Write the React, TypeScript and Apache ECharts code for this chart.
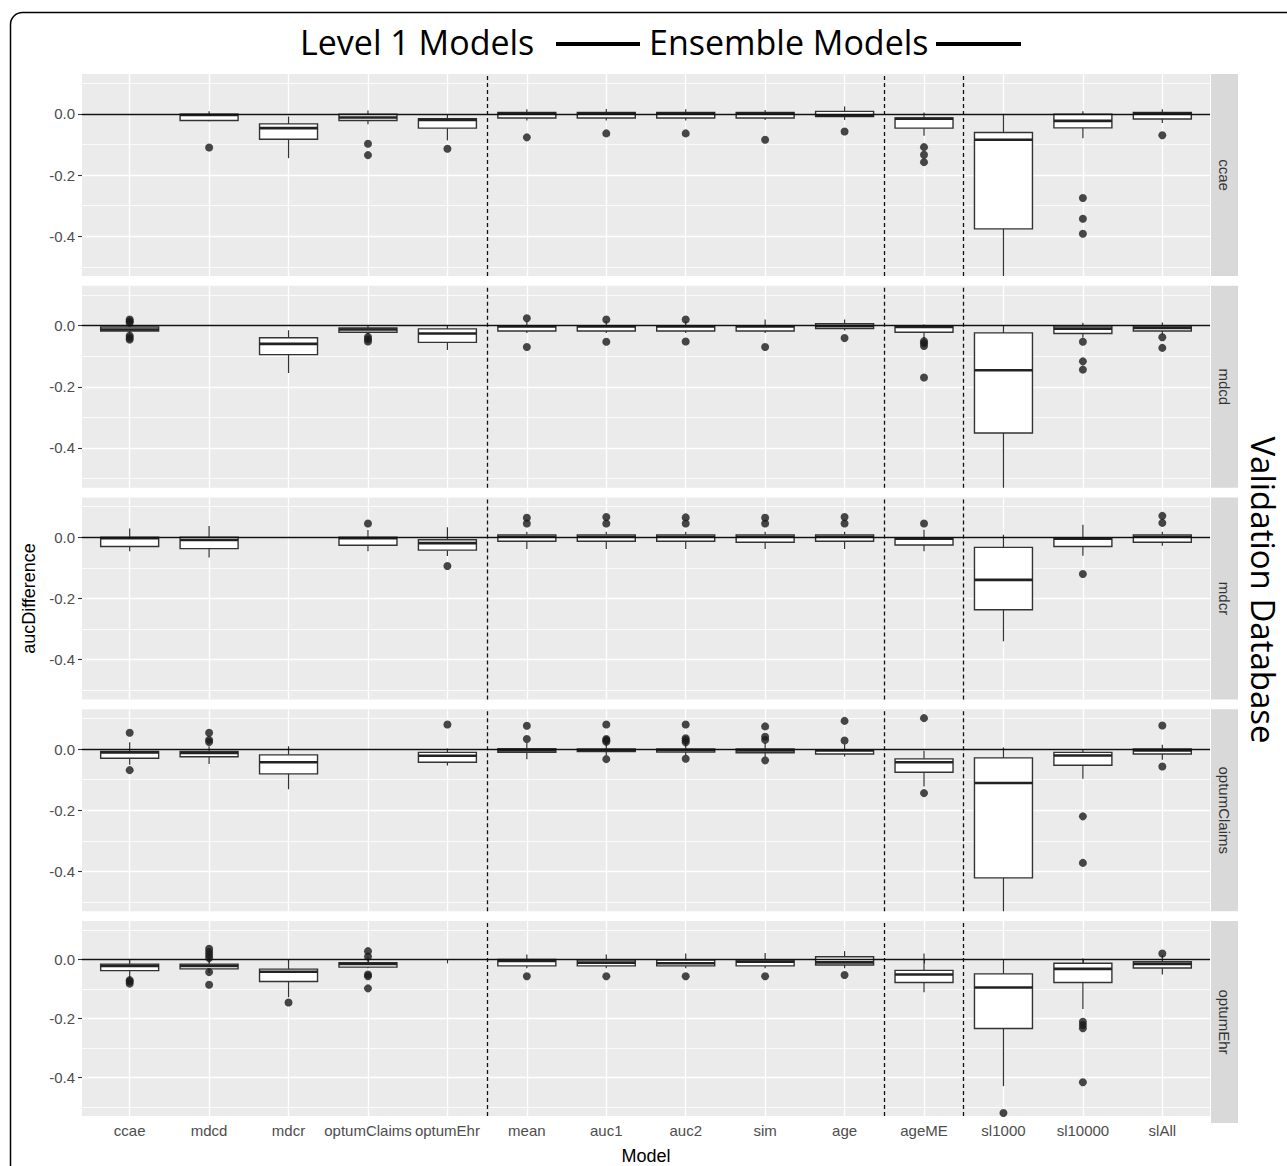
import React, { useEffect, useRef } from 'react';
import * as echarts from 'echarts';

// ---------- data ----------
const models = ['ccae', 'mdcd', 'mdcr', 'optumClaims', 'optumEhr', 'mean', 'auc1', 'auc2', 'sim', 'age', 'ageME', 'sl1000', 'sl10000', 'slAll'];
const databases = ['ccae', 'mdcd', 'mdcr', 'optumClaims', 'optumEhr'];
const yTickValues = [-0.4, -0.2, 0];
const yMinorValues = [-0.5, -0.3, -0.1, 0.1];
const groupDividers = [5.5, 10.5, 11.5];

// [lower whisker, Q1, median, Q3, upper whisker]; null = model trained on this database
type Stat = [number, number, number, number, number] | null;

const ccaeStats: Stat[] = [
  null,
  [-0.024, -0.022, -0.004, -0.001, 0.008],
  [-0.145, -0.083, -0.047, -0.033, -0.009],
  [-0.034, -0.022, -0.012, -0.001, 0.011],
  [-0.087, -0.047, -0.02, -0.016, -0.001],
  [-0.022, -0.014, 0.001, 0.004, 0.015],
  [-0.022, -0.014, 0.001, 0.004, 0.016],
  [-0.022, -0.014, 0.001, 0.004, 0.015],
  [-0.02, -0.014, 0.001, 0.004, 0.012],
  [-0.02, -0.009, -0.006, 0.008, 0.024],
  [-0.072, -0.047, -0.016, -0.014, 0.004],
  [-0.56, -0.376, -0.085, -0.061, 0.0],
  [-0.08, -0.046, -0.023, -0.001, 0.008],
  [-0.03, -0.017, 0.001, 0.004, 0.015],
];
const ccaeOutliers: [string, number][] = [
  ['mdcd', -0.11], ['optumClaims', -0.098], ['optumClaims', -0.135], ['optumEhr', -0.114],
  ['mean', -0.077], ['auc1', -0.064], ['auc2', -0.064], ['sim', -0.085], ['age', -0.058],
  ['ageME', -0.109], ['ageME', -0.134], ['ageME', -0.158],
  ['sl10000', -0.275], ['sl10000', -0.343], ['sl10000', -0.392], ['slAll', -0.07],
];

const mdcdStats: Stat[] = [
  [-0.025, -0.018, -0.013, -0.005, -0.001],
  null,
  [-0.155, -0.095, -0.06, -0.04, -0.015],
  [-0.03, -0.022, -0.013, -0.008, 0.0],
  [-0.08, -0.055, -0.026, -0.011, 0.0],
  [-0.024, -0.018, -0.003, -0.002, 0.014],
  [-0.024, -0.018, -0.003, -0.002, 0.014],
  [-0.024, -0.018, -0.003, -0.002, 0.014],
  [-0.024, -0.018, -0.003, -0.002, 0.02],
  [-0.016, -0.01, -0.002, 0.006, 0.02],
  [-0.045, -0.022, -0.005, -0.002, 0.003],
  [-0.56, -0.351, -0.146, -0.024, 0.0],
  [-0.04, -0.026, -0.01, -0.002, 0.009],
  [-0.03, -0.018, -0.008, -0.002, 0.01],
];
const mdcdOutliers: [string, number][] = [
  ['ccae', 0.02], ['ccae', 0.014], ['ccae', 0.009], ['ccae', -0.033], ['ccae', -0.04], ['ccae', -0.046],
  ['optumClaims', -0.037], ['optumClaims', -0.045], ['optumClaims', -0.052],
  ['mean', 0.024], ['mean', -0.07], ['auc1', 0.02], ['auc1', -0.053], ['auc2', 0.02], ['auc2', -0.052],
  ['sim', -0.07], ['age', -0.041],
  ['ageME', -0.051], ['ageME', -0.058], ['ageME', -0.067], ['ageME', -0.17],
  ['sl10000', -0.053], ['sl10000', -0.117], ['sl10000', -0.144], ['slAll', -0.038], ['slAll', -0.073],
];

const mdcrStats: Stat[] = [
  [-0.046, -0.03, -0.003, 0.0, 0.029],
  [-0.066, -0.037, -0.009, 0.0, 0.037],
  null,
  [-0.046, -0.026, -0.003, 0.0, 0.024],
  [-0.061, -0.042, -0.019, -0.008, 0.033],
  [-0.038, -0.013, 0.002, 0.008, 0.018],
  [-0.038, -0.013, 0.002, 0.008, 0.018],
  [-0.038, -0.013, 0.002, 0.008, 0.018],
  [-0.038, -0.016, 0.002, 0.008, 0.018],
  [-0.038, -0.013, 0.002, 0.008, 0.018],
  [-0.046, -0.025, -0.005, -0.002, 0.025],
  [-0.34, -0.237, -0.139, -0.033, 0.008],
  [-0.06, -0.03, -0.005, -0.002, 0.041],
  [-0.028, -0.016, 0.002, 0.008, 0.018],
];
const mdcrOutliers: [string, number][] = [
  ['optumClaims', 0.045], ['optumEhr', -0.094],
  ['mean', 0.064], ['mean', 0.045], ['auc1', 0.066], ['auc1', 0.045], ['auc2', 0.065], ['auc2', 0.045],
  ['sim', 0.064], ['sim', 0.045], ['age', 0.066], ['age', 0.045], ['ageME', 0.045],
  ['sl10000', -0.12], ['slAll', 0.07], ['slAll', 0.047],
];

const optumClaimsStats: Stat[] = [
  [-0.051, -0.03, -0.011, -0.008, 0.022],
  [-0.049, -0.025, -0.013, -0.008, 0.009],
  [-0.131, -0.081, -0.043, -0.019, 0.009],
  null,
  [-0.054, -0.043, -0.022, -0.011, 0.002],
  [-0.033, -0.011, -0.005, 0.001, 0.02],
  [-0.02, -0.008, -0.004, 0.0, 0.02],
  [-0.02, -0.01, -0.004, 0.0, 0.02],
  [-0.025, -0.012, -0.005, 0.0, 0.02],
  [-0.024, -0.016, -0.005, -0.002, 0.016],
  [-0.122, -0.076, -0.043, -0.032, -0.006],
  [-0.56, -0.421, -0.111, -0.029, 0.005],
  [-0.097, -0.053, -0.021, -0.011, -0.002],
  [-0.035, -0.016, -0.005, 0.0, 0.014],
];
const optumClaimsOutliers: [string, number][] = [
  ['ccae', 0.053], ['ccae', -0.069], ['mdcd', 0.053], ['mdcd', 0.03], ['mdcd', 0.023], ['optumEhr', 0.08],
  ['mean', 0.076], ['mean', 0.033],
  ['auc1', 0.08], ['auc1', 0.033], ['auc1', 0.029], ['auc1', 0.024], ['auc1', -0.033],
  ['auc2', 0.08], ['auc2', 0.035], ['auc2', 0.029], ['auc2', 0.022], ['auc2', -0.032],
  ['sim', 0.074], ['sim', 0.04], ['sim', 0.03], ['sim', -0.037],
  ['age', 0.092], ['age', 0.028], ['ageME', 0.101], ['ageME', -0.144],
  ['sl10000', -0.22], ['sl10000', -0.372], ['slAll', 0.077], ['slAll', -0.057],
];

const optumEhrStats: Stat[] = [
  [-0.062, -0.038, -0.022, -0.016, 0.0],
  [-0.046, -0.032, -0.022, -0.016, 0.009],
  [-0.128, -0.075, -0.042, -0.033, 0.0],
  [-0.03, -0.026, -0.015, -0.011, 0.01],
  null,
  [-0.03, -0.022, -0.005, 0.0, 0.017],
  [-0.03, -0.022, -0.011, -0.002, 0.017],
  [-0.03, -0.022, -0.013, -0.002, 0.02],
  [-0.03, -0.022, -0.008, -0.002, 0.022],
  [-0.03, -0.019, -0.01, 0.009, 0.028],
  [-0.111, -0.078, -0.051, -0.037, 0.02],
  [-0.429, -0.234, -0.095, -0.049, -0.008],
  [-0.168, -0.078, -0.032, -0.013, 0.003],
  [-0.051, -0.029, -0.015, -0.008, 0.014],
];
const optumEhrOutliers: [string, number][] = [
  ['ccae', -0.07], ['ccae', -0.075], ['ccae', -0.082],
  ['mdcd', 0.036], ['mdcd', 0.025], ['mdcd', 0.015], ['mdcd', 0.005], ['mdcd', -0.043], ['mdcd', -0.086],
  ['mdcr', -0.146],
  ['optumClaims', 0.028], ['optumClaims', 0.01], ['optumClaims', -0.051], ['optumClaims', -0.057], ['optumClaims', -0.098],
  ['mean', -0.057], ['auc1', -0.057], ['auc2', -0.057], ['sim', -0.057], ['age', -0.053],
  ['sl1000', -0.52], ['sl10000', -0.211], ['sl10000', -0.222], ['sl10000', -0.233], ['sl10000', -0.416],
  ['slAll', 0.02],
];

const statsByDb = [ccaeStats, mdcdStats, mdcrStats, optumClaimsStats, optumEhrStats];
const outliersByDb = [ccaeOutliers, mdcdOutliers, mdcrOutliers, optumClaimsOutliers, optumEhrOutliers];

// ---------- layout ----------
const W = 1287;
const H = 1166;
const GRID_LEFT = 82;
const GRID_WIDTH = 1128;
const PANEL_TOP = 74;
const PANEL_STEP = 211.75;
const PANEL_H = 202;
const Y_MIN = -0.53;
const Y_MAX = 0.13;
const X_MIN = 0.4;
const X_MAX = 14.6;
const BOX_HALF = 0.365;
const FONT = 'Liberation Sans, Arial, sans-serif';
const TITLE_FONT = 'Open Sans, sans-serif';
const BOX_STROKE = '#333333';

function App() {
  const ref = useRef<HTMLDivElement>(null);

  useEffect(() => {
    document.body.style.margin = '0';
    if (!ref.current) return;
    const chart = echarts.init(ref.current, null, { renderer: 'svg' });

    const grids: any[] = [];
    const xAxes: any[] = [];
    const yAxes: any[] = [];
    const series: any[] = [];
    const graphics: any[] = [];
    const xPositions = models.map((_, i) => i + 1);

    databases.forEach((db, i) => {
      const top = PANEL_TOP + i * PANEL_STEP;
      const isLast = i === databases.length - 1;
      grids.push({
        left: GRID_LEFT, top, width: GRID_WIDTH, height: PANEL_H,
        show: true, backgroundColor: '#EBEBEB', borderWidth: 0,
      });
      xAxes.push({
        type: 'value', gridIndex: i, min: X_MIN, max: X_MAX,
        axisLine: { show: false },
        axisTick: { show: isLast, customValues: xPositions, length: 4, lineStyle: { color: '#333', width: 1.1 } },
        axisLabel: {
          show: isLast, customValues: xPositions, margin: 7,
          formatter: (v: number) => models[Math.round(v) - 1] ?? '',
          color: '#4D4D4D', fontSize: 15, fontFamily: FONT,
        },
        splitLine: { show: true, lineStyle: { color: '#FFFFFF', width: 1.3 } },
        name: isLast ? 'Model' : '',
        nameLocation: 'middle', nameGap: 31,
        nameTextStyle: { color: '#000', fontSize: 18, fontFamily: FONT },
      });
      yAxes.push({
        type: 'value', gridIndex: i, min: Y_MIN, max: Y_MAX,
        axisLine: { show: false },
        axisTick: { show: true, customValues: yTickValues, length: 4, lineStyle: { color: '#333', width: 1.1 } },
        axisLabel: {
          show: true, customValues: yTickValues, margin: 7,
          formatter: (v: number) => v.toFixed(1),
          color: '#4D4D4D', fontSize: 15, fontFamily: FONT,
        },
        splitLine: { show: true, lineStyle: { color: '#FFFFFF', width: 1.3 } },
        name: i === 2 ? 'aucDifference' : '',
        nameLocation: 'middle', nameGap: 37,
        nameTextStyle: { color: '#000', fontSize: 18, fontFamily: FONT },
      });
      yAxes.push({
        type: 'value', gridIndex: i, min: Y_MIN, max: Y_MAX,
        axisLine: { show: false },
        axisTick: { show: false, customValues: yMinorValues },
        axisLabel: { show: false },
        splitLine: { show: true, lineStyle: { color: '#FFFFFF', width: 0.8 } },
      });

      const boxData = statsByDb[i]
        .map((s, j) => (s ? [j + 1, ...s] : null))
        .filter((d) => d !== null);

      series.push({
        type: 'custom', name: db + ' boxes', xAxisIndex: i, yAxisIndex: i * 2,
        clip: true, z: 2, silent: true,
        encode: { x: 0, y: [1, 2, 3, 4, 5] },
        data: boxData,
        renderItem: (_params: any, api: any) => {
          const x = api.value(0);
          const lo = api.value(1);
          const q1 = api.value(2);
          const md = api.value(3);
          const q3 = api.value(4);
          const hi = api.value(5);
          const tl = api.coord([x - BOX_HALF, q3]);
          const br = api.coord([x + BOX_HALF, q1]);
          const c = api.coord([x, md]);
          const yHi = api.coord([x, hi])[1];
          const yLo = api.coord([x, lo])[1];
          return {
            type: 'group',
            children: [
              { type: 'line', shape: { x1: c[0], y1: yHi, x2: c[0], y2: tl[1] }, style: { stroke: BOX_STROKE, lineWidth: 1.2 } },
              { type: 'line', shape: { x1: c[0], y1: br[1], x2: c[0], y2: yLo }, style: { stroke: BOX_STROKE, lineWidth: 1.2 } },
              { type: 'rect', shape: { x: tl[0], y: tl[1], width: br[0] - tl[0], height: br[1] - tl[1] }, style: { fill: '#FFFFFF', stroke: BOX_STROKE, lineWidth: 1.4 } },
              { type: 'line', shape: { x1: tl[0], y1: c[1], x2: br[0], y2: c[1] }, style: { stroke: '#222', lineWidth: 2.6 } },
            ],
          };
        },
      });

      series.push({
        type: 'scatter', name: db + ' outliers', xAxisIndex: i, yAxisIndex: i * 2,
        z: 3, silent: true, symbolSize: 8,
        itemStyle: { color: '#1A1A1A' },
        data: outliersByDb[i].map(([m, v]) => [models.indexOf(m) + 1, v]),
        markLine: {
          silent: true, symbol: 'none', label: { show: false },
          data: [
            { yAxis: 0, lineStyle: { type: 'solid', color: '#111', width: 1.3 } },
            ...groupDividers.map((d) => ({ xAxis: d, lineStyle: { type: [4, 3], color: '#111', width: 1.3 } })),
          ],
        },
      });

      // facet strip
      graphics.push({
        type: 'rect', shape: { x: 1211, y: top, width: 27, height: PANEL_H },
        style: { fill: '#D9D9D9' }, silent: true,
      });
      graphics.push({
        type: 'text', x: 1224.5, y: top + PANEL_H / 2, rotation: -Math.PI / 2,
        style: { text: db, fill: '#333', font: `15px ${FONT}`, align: 'center', verticalAlign: 'middle' },
        silent: true,
      });
    });

    // frame
    graphics.push({
      type: 'rect', shape: { x: 10.5, y: 12.5, width: 1400, height: 1300, r: 12 },
      style: { fill: 'none', stroke: '#000', lineWidth: 1.5 }, silent: true,
    });
    // header
    graphics.push({
      type: 'text', x: 300, y: 42,
      style: { text: 'Level 1 Models', fill: '#000', font: `34px ${TITLE_FONT}`, align: 'left', verticalAlign: 'middle' },
    });
    graphics.push({ type: 'rect', shape: { x: 556, y: 42, width: 84, height: 4 }, style: { fill: '#000' } });
    graphics.push({
      type: 'text', x: 649, y: 42,
      style: { text: 'Ensemble Models', fill: '#000', font: `34px ${TITLE_FONT}`, align: 'left', verticalAlign: 'middle' },
    });
    graphics.push({ type: 'rect', shape: { x: 936, y: 42, width: 85, height: 4 }, style: { fill: '#000' } });
    // right title
    graphics.push({
      type: 'text', x: 1263, y: 590, rotation: -Math.PI / 2,
      style: { text: 'Validation Database', fill: '#000', font: `33px ${TITLE_FONT}`, align: 'center', verticalAlign: 'middle' },
    });

    chart.setOption({
      animation: false,
      backgroundColor: '#FFFFFF',
      grid: grids,
      xAxis: xAxes,
      yAxis: yAxes,
      series,
      graphic: { elements: graphics },
    });

    return () => chart.dispose();
  }, []);

  return <div ref={ref} style={{ width: W, height: H }} />;
}

export default App;
